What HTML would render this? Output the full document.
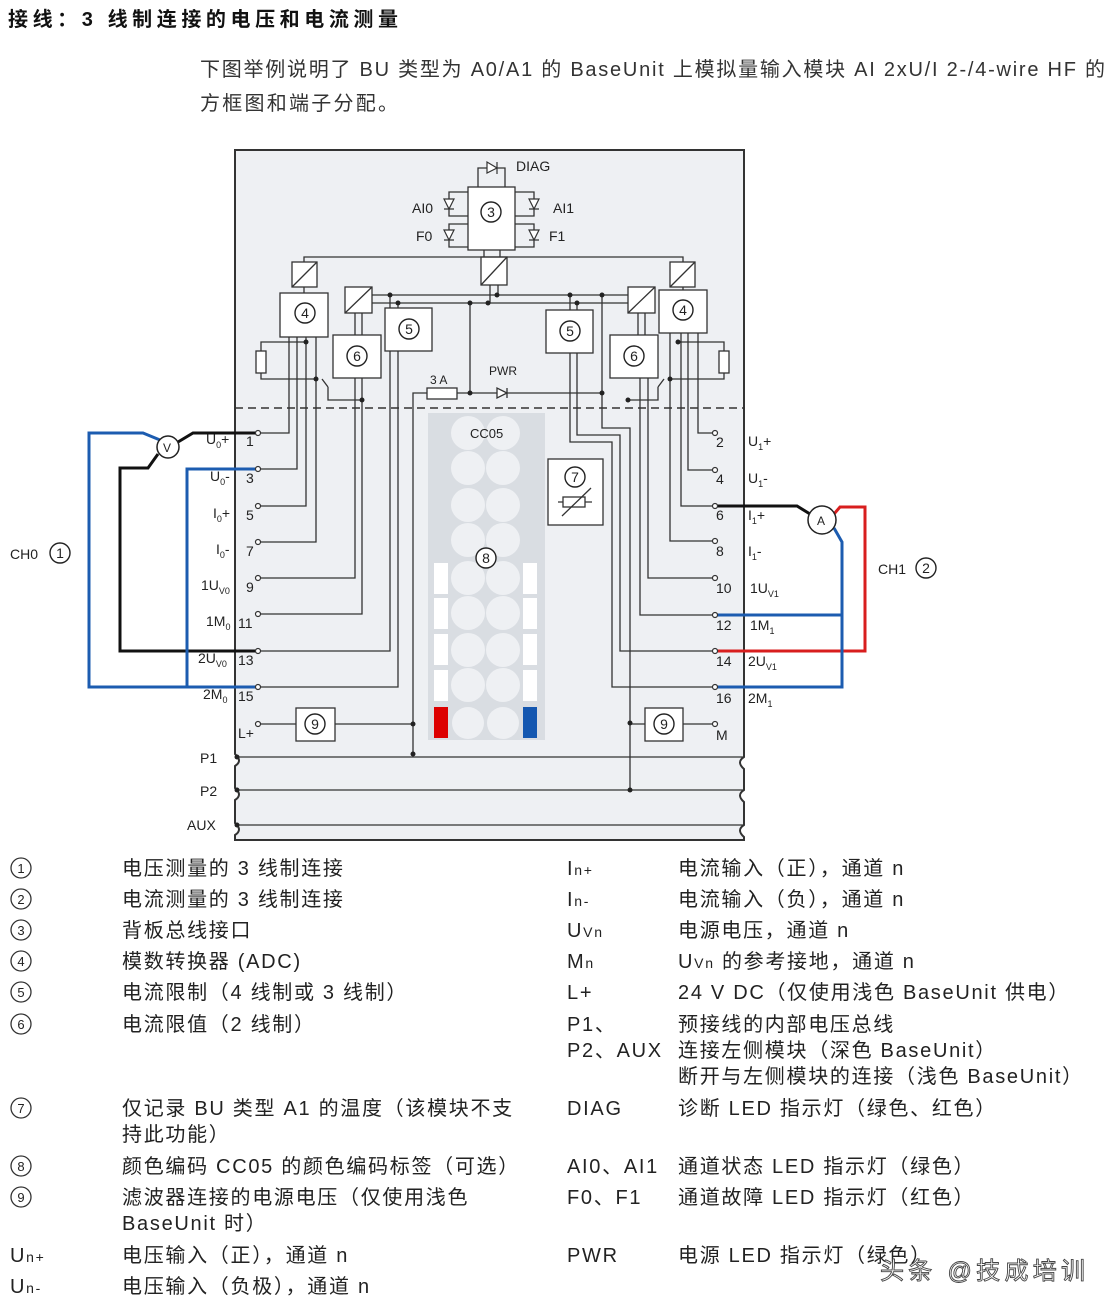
<!DOCTYPE html>
<html><head><meta charset="utf-8"><style>
html,body{margin:0;padding:0;background:#fff}
svg text{font-family:"Liberation Sans","Noto Sans CJK SC",sans-serif;fill:#222}
.t{font-size:20px;fill:#333;letter-spacing:1.7px}
.d{font-size:14px}
.s{font-size:9px}
</style></head><body>
<svg width="1108" height="1308" viewBox="0 0 1108 1308" xmlns="http://www.w3.org/2000/svg">
<text x="8" y="26" textLength="390" style="font-size:20px;font-weight:bold;fill:#111">接线：3 线制连接的电压和电流测量</text>
<text x="200" y="76" textLength="905" style="font-size:20px;fill:#333">下图举例说明了 BU 类型为 A0/A1 的 BaseUnit 上模拟量输入模块 AI 2xU/I 2-/4-wire HF 的</text>
<text x="200" y="110" textLength="198" style="font-size:20px;fill:#333">方框图和端子分配。</text>

<!-- module body -->
<path d="M235 150 H744 V757 q-8 5 0 12 V790 q-8 5 0 12 V825 q-8 5 0 12 V840 H235 V835 q8-5 0-12 V800 q8-5 0-12 V766 q8-5 0-12 Z" fill="#eef0f3" stroke="#333" stroke-width="2"/>
<line x1="235" y1="408" x2="744" y2="408" stroke="#333" stroke-width="1.6" stroke-dasharray="8,5"/>

<g fill="none" stroke="#333" stroke-width="1.3">
<rect x="468" y="187" width="47" height="63" fill="#fff"/>
<path d="M478 187 V168 H505 V187"/>
<path d="M468 192 H449 V216 H468 M468 224 H449 V247 H468"/>
<path d="M515 192 H534 V216 H515 M515 224 H534 V247 H515"/>
<path d="M484 250 V257 M500 250 V257"/>
<rect x="481" y="257" width="26" height="28" fill="#fff"/><line x1="481" y1="285" x2="507" y2="257"/>
<path d="M490 285 V303 M498 285 V295"/>
<path d="M304 262 V257 H683 V262"/>
<rect x="292" y="262" width="25" height="25" fill="#fff"/><line x1="292" y1="287" x2="317" y2="262"/>
<rect x="670" y="262" width="25" height="25" fill="#fff"/><line x1="670" y1="287" x2="695" y2="262"/>
<path d="M304 287 V293 M683 287 V290"/>
<path d="M372 295 H628 M372 303 H628"/>
<rect x="345" y="287" width="27" height="26" fill="#fff"/><line x1="345" y1="313" x2="372" y2="287"/>
<rect x="628" y="287" width="27" height="26" fill="#fff"/><line x1="628" y1="313" x2="655" y2="287"/>
<path d="M355 313 V335 M362 313 V335 M638 313 V335 M645 313 V335"/>
<rect x="280" y="293" width="48" height="44" fill="#fff"/>
<rect x="659" y="290" width="48" height="43" fill="#fff"/>
<rect x="333" y="335" width="48" height="43" fill="#fff"/>
<rect x="610" y="335" width="48" height="43" fill="#fff"/>
<rect x="385" y="308" width="47" height="43" fill="#fff"/>
<rect x="546" y="310" width="47" height="43" fill="#fff"/>
<path d="M390 295 V308 M398 303 V308 M570 295 V310 M577 303 V310"/>
<path d="M470 303 V393 M413 400 V393 H427 M457 393 H602 M602 295 V428 H630 V790"/>
<rect x="427" y="388" width="30" height="11" fill="#fff"/>
<path d="M497 388 V398 L507 393 Z M507 388 V398" fill="#fff"/>
<path d="M413 400 V754"/>
<path d="M306 342 H261 V351 M261 373 V379 H316"/>
<rect x="256" y="351" width="10" height="22" fill="#fff"/>
<path d="M322 379 l6 8 M328 387 V400 H362"/>
<path d="M678 342 H724 V351 M724 373 V379 H670"/>
<rect x="719" y="351" width="10" height="22" fill="#fff"/>
<path d="M664 379 l-6 8 M658 387 V400 H628"/>
<path d="M289 337 V433 H258 M297 337 V469 H258 M306 337 V506 H258 M316 337 V542 H258"/>
<path d="M355 378 V578 H258 M362 378 V614 H258"/>
<path d="M390 351 V651 H258 M398 351 V687 H258"/>
<path d="M258 724 H296 M335 724 H413"/>
<rect x="296" y="708" width="39" height="33" fill="#fff"/>
<path d="M698 333 V433 H715 M688 333 V470 H715 M681 333 V506 H715 M670 333 V541 H715"/>
<path d="M648 378 V578 H715 M640 378 V615 H715"/>
<path d="M570 353 V442 H612 V687 H715 M577 353 V435 H620 V651 H715"/>
<path d="M630 724 H645 M683 724 H715"/>
<rect x="645" y="708" width="38" height="33" fill="#fff"/>
<path d="M235 757 H744 M235 790 H744 M235 825 H744"/>
<rect x="548" y="459" width="55" height="66" fill="#fff"/>
<rect x="563" y="497" width="22" height="10"/><path d="M558 502 H563 M585 502 H592 M562 516 L591 488"/>
</g>
<g fill="#222">
<circle cx="390" cy="295" r="2.5"/><circle cx="398" cy="303" r="2.5"/><circle cx="470" cy="303" r="2.5"/><circle cx="488" cy="303" r="2.5"/><circle cx="497" cy="295" r="2.5"/><circle cx="570" cy="295" r="2.5"/><circle cx="577" cy="303" r="2.5"/><circle cx="602" cy="295" r="2.5"/>
<circle cx="470" cy="393" r="2.5"/><circle cx="602" cy="393" r="2.5"/>
<circle cx="306" cy="342" r="2.5"/><circle cx="316" cy="379" r="2.5"/><circle cx="362" cy="400" r="2.5"/>
<circle cx="678" cy="342" r="2.5"/><circle cx="670" cy="379" r="2.5"/><circle cx="628" cy="400" r="2.5"/>
<circle cx="413" cy="724" r="2.5"/><circle cx="413" cy="754" r="2.5"/><circle cx="630" cy="723" r="2.5"/><circle cx="630" cy="790" r="2.5"/>
<circle cx="237" cy="757" r="2.5"/><circle cx="237" cy="790" r="2.5"/><circle cx="237" cy="825" r="2.5"/>
</g>
<g fill="#fff" stroke="#333" stroke-width="1.2">
<path d="M487 162 L487 173 L497 168 Z M497 162 V174"/>
<path d="M444 199 H454 L449 209 Z M444 209 H454"/><path d="M444 230 H454 L449 240 Z M444 240 H454"/>
<path d="M529 199 H539 L534 209 Z M529 209 H539"/><path d="M529 230 H539 L534 240 Z M529 240 H539"/>
</g>

<rect x="428" y="413" width="117" height="327" fill="#d9dde2"/>
<g fill="#eef0f3">
<circle cx="468" cy="433" r="17"/><circle cx="503" cy="433" r="17"/>
<circle cx="468" cy="468" r="17"/><circle cx="503" cy="468" r="17"/>
<circle cx="468" cy="505" r="17"/><circle cx="503" cy="505" r="17"/>
<circle cx="468" cy="540" r="17"/><circle cx="503" cy="540" r="17"/>
<circle cx="468" cy="578" r="17"/><circle cx="503" cy="578" r="17"/>
<circle cx="468" cy="613" r="17"/><circle cx="503" cy="613" r="17"/>
<circle cx="468" cy="650" r="17"/><circle cx="503" cy="650" r="17"/>
<circle cx="468" cy="685" r="17"/><circle cx="503" cy="685" r="17"/>
<circle cx="468" cy="723" r="16"/><circle cx="503" cy="723" r="16"/>
</g>
<g fill="#fff">
<rect x="434" y="563" width="14" height="31"/><rect x="434" y="598" width="14" height="31"/><rect x="434" y="634" width="14" height="31"/><rect x="434" y="670" width="14" height="31"/>
<rect x="523" y="563" width="14" height="31"/><rect x="523" y="598" width="14" height="31"/><rect x="523" y="634" width="14" height="31"/><rect x="523" y="670" width="14" height="31"/>
</g>
<rect x="434" y="707" width="14" height="31" fill="#d00"/>
<rect x="523" y="707" width="14" height="31" fill="#1457b0"/>
<text x="470" y="438" class="d" style="font-size:13px">CC05</text>

<g fill="none" stroke-width="3">
<path d="M258 433 H193 L178 442 M158 454 L148 468 H120 V651 H258" stroke="#111"/>
<path d="M160 440 L143 433 H89 V687 H258 M258 469 H187 V687" stroke="#1c5cb0"/>
<path d="M715 506 H797 L810 514" stroke="#111"/>
<path d="M834 514 L840 507 H865 V651 H715" stroke="#d81e1e"/>
<path d="M834 528 L842 542 V687 H715 M715 615 H842" stroke="#1c5cb0"/>
</g>
<circle cx="168" cy="447" r="11" fill="#fff" stroke="#222" stroke-width="1.5"/><text x="163" y="452" class="d" style="font-size:12px">V</text>
<circle cx="822" cy="520" r="14" fill="#fff" stroke="#222" stroke-width="1.5"/><text x="817" y="525" class="d" style="font-size:12px">A</text>

<g fill="#fff" stroke="#333" stroke-width="1.2">
<circle cx="258" cy="433" r="2.5"/><circle cx="258" cy="469" r="2.5"/><circle cx="258" cy="506" r="2.5"/><circle cx="258" cy="542" r="2.5"/><circle cx="258" cy="578" r="2.5"/><circle cx="258" cy="614" r="2.5"/><circle cx="258" cy="651" r="2.5"/><circle cx="258" cy="687" r="2.5"/><circle cx="258" cy="724" r="2.5"/>
<circle cx="715" cy="433" r="2.5"/><circle cx="715" cy="470" r="2.5"/><circle cx="715" cy="506" r="2.5"/><circle cx="715" cy="541" r="2.5"/><circle cx="715" cy="578" r="2.5"/><circle cx="715" cy="615" r="2.5"/><circle cx="715" cy="651" r="2.5"/><circle cx="715" cy="687" r="2.5"/><circle cx="715" cy="724" r="2.5"/>
</g>

<g fill="#fff" stroke="#222" stroke-width="1.4">
<circle cx="491" cy="212" r="10"/><circle cx="305" cy="313" r="10"/><circle cx="683" cy="310" r="10"/><circle cx="357" cy="356" r="10"/><circle cx="634" cy="356" r="10"/><circle cx="409" cy="329" r="10"/><circle cx="570" cy="331" r="10"/><circle cx="575" cy="477" r="10"/><circle cx="486" cy="558" r="10"/><circle cx="315" cy="724" r="10"/><circle cx="664" cy="724" r="10"/><circle cx="60" cy="553" r="10"/><circle cx="926" cy="568" r="10"/>
</g>
<g class="d" style="font-size:14px" text-anchor="middle">
<text x="491" y="217">3</text><text x="305" y="318">4</text><text x="683" y="315">4</text><text x="357" y="361">6</text><text x="634" y="361">6</text><text x="409" y="334">5</text><text x="570" y="336">5</text><text x="575" y="482">7</text><text x="486" y="563">8</text><text x="315" y="729">9</text><text x="664" y="729">9</text><text x="60" y="558">1</text><text x="926" y="573">2</text>
</g>

<g class="d">
<text x="516" y="171">DIAG</text>
<text x="412" y="213">AI0</text><text x="416" y="241">F0</text>
<text x="553" y="213">AI1</text><text x="549" y="241">F1</text>
<text x="430" y="384" style="font-size:12px">3 A</text>
<text x="489" y="375" style="font-size:12px">PWR</text>
<text x="10" y="559">CH0</text><text x="878" y="574">CH1</text>
<text x="200" y="763">P1</text><text x="200" y="796">P2</text><text x="187" y="830">AUX</text>
</g>
<g class="d">
<text x="206" y="444">U<tspan class="s" dy="4">0</tspan><tspan dy="-4">+</tspan></text>
<text x="210" y="481">U<tspan class="s" dy="4">0</tspan><tspan dy="-4">-</tspan></text>
<text x="213" y="518">I<tspan class="s" dy="4">0</tspan><tspan dy="-4">+</tspan></text>
<text x="216" y="554">I<tspan class="s" dy="4">0</tspan><tspan dy="-4">-</tspan></text>
<text x="201" y="590">1U<tspan class="s" dy="4">V0</tspan></text>
<text x="206" y="626">1M<tspan class="s" dy="4">0</tspan></text>
<text x="198" y="663">2U<tspan class="s" dy="4">V0</tspan></text>
<text x="203" y="699">2M<tspan class="s" dy="4">0</tspan></text>
<text x="246" y="446">1</text><text x="246" y="483">3</text><text x="246" y="520">5</text><text x="246" y="556">7</text><text x="246" y="592">9</text><text x="238" y="628">11</text><text x="238" y="665">13</text><text x="238" y="701">15</text><text x="238" y="738">L+</text>
<text x="716" y="447">2</text><text x="716" y="484">4</text><text x="716" y="520">6</text><text x="716" y="556">8</text><text x="716" y="593">10</text><text x="716" y="630">12</text><text x="716" y="666">14</text><text x="716" y="703">16</text><text x="716" y="740">M</text>
<text x="748" y="446">U<tspan class="s" dy="4">1</tspan><tspan dy="-4">+</tspan></text>
<text x="748" y="483">U<tspan class="s" dy="4">1</tspan><tspan dy="-4">-</tspan></text>
<text x="748" y="520">I<tspan class="s" dy="4">1</tspan><tspan dy="-4">+</tspan></text>
<text x="748" y="556">I<tspan class="s" dy="4">1</tspan><tspan dy="-4">-</tspan></text>
<text x="750" y="593">1U<tspan class="s" dy="4">V1</tspan></text>
<text x="750" y="630">1M<tspan class="s" dy="4">1</tspan></text>
<text x="748" y="666">2U<tspan class="s" dy="4">V1</tspan></text>
<text x="748" y="703">2M<tspan class="s" dy="4">1</tspan></text>
</g>

<g fill="none" stroke="#333" stroke-width="1.3">
<circle cx="21" cy="868" r="10"/><circle cx="21" cy="899" r="10"/><circle cx="21" cy="930" r="10"/><circle cx="21" cy="961" r="10"/><circle cx="21" cy="992" r="10"/><circle cx="21" cy="1024" r="10"/><circle cx="21" cy="1108" r="10"/><circle cx="21" cy="1166" r="10"/><circle cx="21" cy="1197" r="10"/>
</g>
<g style="font-size:13px" text-anchor="middle">
<text x="21" y="873">1</text><text x="21" y="904">2</text><text x="21" y="935">3</text><text x="21" y="966">4</text><text x="21" y="997">5</text><text x="21" y="1029">6</text><text x="21" y="1113">7</text><text x="21" y="1171">8</text><text x="21" y="1202">9</text>
</g>
<g class="t">
<text x="122" y="875">电压测量的 3 线制连接</text>
<text x="122" y="906">电流测量的 3 线制连接</text>
<text x="122" y="937">背板总线接口</text>
<text x="122" y="968">模数转换器 (ADC)</text>
<text x="122" y="999">电流限制（4 线制或 3 线制）</text>
<text x="122" y="1031">电流限值（2 线制）</text>
<text x="122" y="1115">仅记录 BU 类型 A1 的温度（该模块不支</text>
<text x="122" y="1141">持此功能）</text>
<text x="122" y="1173">颜色编码 CC05 的颜色编码标签（可选）</text>
<text x="122" y="1204">滤波器连接的电源电压（仅使用浅色</text>
<text x="122" y="1230">BaseUnit 时）</text>
<text x="122" y="1262">电压输入（正），通道 n</text>
<text x="122" y="1293">电压输入（负极），通道 n</text>
<text x="10" y="1262">U<tspan style="font-size:14px">n+</tspan></text>
<text x="10" y="1293">U<tspan style="font-size:14px">n-</tspan></text>
<text x="567" y="875">I<tspan style="font-size:14px">n+</tspan></text>
<text x="567" y="906">I<tspan style="font-size:14px">n-</tspan></text>
<text x="567" y="937">U<tspan style="font-size:14px">Vn</tspan></text>
<text x="567" y="968">M<tspan style="font-size:14px">n</tspan></text>
<text x="567" y="999">L+</text>
<text x="567" y="1031">P1、</text>
<text x="567" y="1057">P2、AUX</text>
<text x="567" y="1115">DIAG</text>
<text x="567" y="1173">AI0、AI1</text>
<text x="567" y="1204">F0、F1</text>
<text x="567" y="1262">PWR</text>
<text x="678" y="875">电流输入（正），通道 n</text>
<text x="678" y="906">电流输入（负），通道 n</text>
<text x="678" y="937">电源电压，通道 n</text>
<text x="678" y="968">U<tspan style="font-size:14px">Vn</tspan> 的参考接地，通道 n</text>
<text x="678" y="999">24 V DC（仅使用浅色 BaseUnit 供电）</text>
<text x="678" y="1031">预接线的内部电压总线</text>
<text x="678" y="1057">连接左侧模块（深色 BaseUnit）</text>
<text x="678" y="1083">断开与左侧模块的连接（浅色 BaseUnit）</text>
<text x="678" y="1115">诊断 LED 指示灯（绿色、红色）</text>
<text x="678" y="1173">通道状态 LED 指示灯（绿色）</text>
<text x="678" y="1204">通道故障 LED 指示灯（红色）</text>
<text x="678" y="1262">电源 LED 指示灯（绿色）</text>
</g>
<text x="880" y="1279" textLength="205" style="font-size:24px;fill:#fff;stroke:#444;stroke-width:0.9">头条 @技成培训</text>
</svg>
</body></html>
